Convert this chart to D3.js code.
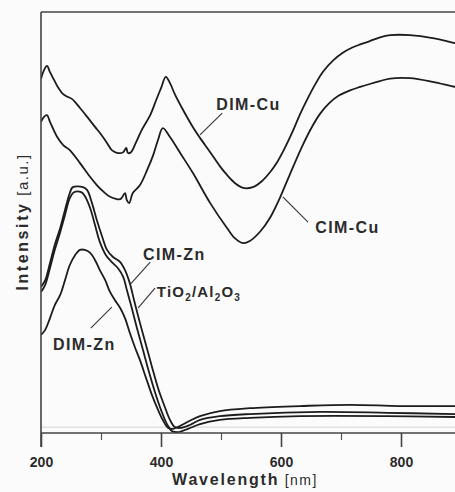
<!DOCTYPE html>
<html>
<head>
    <title>UV-Vis spectra</title>
    <script src="https://d3js.org/d3.v7.min.js"></script>
    <style>
        body { margin: 0; background: #fbfbfb; }
        text { font-family: "Liberation Sans", Arial, sans-serif; fill: #2b2b2b; }
    </style>
</head>
<body>
    <div id="chart"></div>

    <script>
        // [wavelength nm, intensity a.u.]
        const dimCu = [[200,84.1],[205,86.2],[210,87.2],[215,85.7],[222,83.8],[228,82.2],[237,80.5],[245,79.8],[252,79.3],[265,77.2],[277,75.1],[290,72.7],[298,71.3],[310,68.9],[318,67.2],[328,66.5],[337,66.7],[342,67.7],[345,66.5],[350,66.7],[358,68.9],[368,72.0],[382,75.5],[392,79.1],[400,81.9],[408,84.6],[415,83.1],[423,80.5],[435,77.2],[453,72.7],[465,70.1],[482,66.7],[498,63.4],[510,61.3],[523,59.4],[537,58.2],[553,58.4],[568,59.8],[582,62.0],[593,64.2],[605,67.3],[620,71.8],[632,75.8],[645,79.6],[657,82.8],[670,85.8],[687,88.5],[703,90.3],[718,91.5],[732,92.3],[748,93.1],[765,94.0],[782,94.5],[815,94.5],[853,93.8],[890,92.6],[900,92.3]];
        const cimCu = [[200,73.9],[205,75.1],[210,75.5],[215,73.9],[227,70.3],[237,68.4],[248,67.2],[265,64.1],[282,60.8],[293,58.9],[305,57.2],[315,56.1],[325,55.6],[333,55.6],[340,57.0],[343,55.3],[347,54.6],[353,57.0],[365,58.9],[377,62.5],[387,66.0],[395,69.6],[403,72.4],[415,70.3],[432,66.5],[453,61.8],[482,54.6],[510,48.7],[523,46.3],[537,45.1],[548,45.6],[565,47.8],[582,51.2],[598,55.8],[615,61.5],[637,68.6],[652,72.8],[665,75.8],[680,78.3],[697,80.2],[715,81.4],[732,82.2],[748,82.9],[765,83.6],[782,84.2],[815,84.3],[853,83.4],[890,82.2],[900,82.0]];
        const cimZn = [[200,34.7],[207,36.3],[215,40.4],[223,44.7],[232,48.7],[240,53.0],[248,57.0],[253,58.4],[270,58.4],[277,57.7],[285,54.6],[293,50.6],[302,46.6],[310,43.5],[320,41.8],[332,40.6],[340,38.7],[348,35.6],[355,31.6],[365,26.1],[375,20.9],[385,15.7],[395,10.7],[405,6.7],[415,3.1],[423,1.4],[432,1.2],[448,1.9],[465,3.1],[498,4.0],[548,4.5],[665,5.0],[777,4.8],[890,4.5],[900,4.5]];
        const tiAl = [[200,33.5],[207,35.2],[215,39.2],[223,43.5],[232,47.7],[240,51.8],[248,55.8],[255,57.2],[267,57.2],[273,56.3],[282,53.4],[290,49.4],[298,45.4],[308,42.3],[318,40.6],[328,39.2],[337,37.1],[343,34.0],[350,30.4],[360,24.9],[370,19.7],[380,14.5],[390,9.7],[400,5.5],[410,2.1],[418,0.5],[428,0.2],[445,1.0],[465,2.1],[498,3.1],[548,3.6],[632,4.0],[777,4.0],[890,3.8],[900,3.8]];
        const dimZn = [[200,23.3],[207,24.5],[215,27.3],[223,30.4],[232,32.8],[240,36.3],[248,39.9],[257,42.3],[265,43.5],[273,43.5],[282,42.8],[290,41.1],[298,38.7],[307,36.3],[315,33.5],[323,31.6],[332,29.7],[340,27.3],[348,23.8],[357,20.2],[365,17.3],[375,13.1],[385,9.0],[395,5.5],[403,3.1],[412,1.2],[420,1.0],[432,1.7],[448,2.9],[465,4.0],[498,5.2],[548,5.9],[632,6.4],[715,6.7],[798,6.4],[890,6.4],[900,6.4]];

        const series = [dimCu, cimCu, cimZn, tiAl, dimZn];

        const majorTicks = [200, 400, 600, 800];
        const minorTicks = [300, 500, 700];

        // label text, pointer tip, pointer tail, text position (data units)
        const labels = [
            {text: "DIM-Cu", tip: [465, 70.8], tail: [502, 76.0], at: [492, 76.7]},
            {text: "CIM-Cu", tip: [603, 56.1], tail: [645, 50.1], at: [657, 47.5]},
            {text: "CIM-Zn", tip: [348, 35.2], tail: [382, 40.6], at: [370, 41.1]},
            {text: "TiO2/Al2O3", tip: [362, 29.7], tail: [390, 34.4], at: [393, 32.3]},
            {text: "DIM-Zn", tip: [318, 29.9], tail: [283, 24.9], at: [220, 19.7]}
        ];

        const width = 455, height = 492;
        const plotLeft = 41, plotTop = 12, plotBottom = 433;

        const svg = d3.select("#chart").append("svg")
            .attr("width", width)
            .attr("height", height);

        svg.append("rect").attr("width", width).attr("height", height).attr("fill", "#fbfbfb");

        const x = d3.scaleLinear().domain([200, 900]).range([plotLeft, plotLeft + 420]);
        const y = d3.scaleLinear().domain([0, 100]).range([plotBottom, plotTop]);

        svg.append("clipPath").attr("id", "plot")
          .append("rect").attr("x", plotLeft).attr("y", 0).attr("width", width - plotLeft).attr("height", plotBottom + 4);

        // faint inner line just above the axis
        svg.append("line")
            .attr("x1", plotLeft).attr("x2", width)
            .attr("y1", y(1.4)).attr("y2", y(1.4))
            .attr("stroke", "#d2d2d2").attr("stroke-width", 1);

        const line = d3.line()
            .x(d => x(d[0]))
            .y(d => y(d[1]))
            .curve(d3.curveCatmullRom.alpha(0.5));

        svg.append("g").attr("clip-path", "url(#plot)")
          .selectAll("path")
          .data(series)
          .enter().append("path")
            .attr("d", line)
            .attr("fill", "none")
            .attr("stroke", "#1c1c1c")
            .attr("stroke-width", 1.8)
            .attr("stroke-linejoin", "round");

        // frame: top and left
        svg.append("line")
            .attr("x1", plotLeft).attr("x2", width)
            .attr("y1", plotTop).attr("y2", plotTop)
            .attr("stroke", "#444").attr("stroke-width", 1.6);
        svg.append("line")
            .attr("x1", plotLeft).attr("x2", plotLeft)
            .attr("y1", plotTop).attr("y2", plotBottom + 14)
            .attr("stroke", "#444").attr("stroke-width", 1.6);

        const xAxis = svg.append("g")
            .attr("transform", "translate(0," + plotBottom + ")")
            .call(d3.axisBottom(x).tickValues(majorTicks).tickSize(14).tickPadding(10).tickFormat(d3.format("d")));
        xAxis.select(".domain").remove();
        xAxis.selectAll("line").attr("stroke", "#444").attr("stroke-width", 1.6);
        xAxis.selectAll("text")
            .attr("fill", "#2b2b2b")
            .style("font-size", "14px").style("font-weight", "bold")
            .style("font-family", "'Liberation Sans', Arial, sans-serif");

        const minorAxis = svg.append("g")
            .attr("transform", "translate(0," + plotBottom + ")")
            .call(d3.axisBottom(x).tickValues(minorTicks).tickSize(7).tickFormat(""));
        minorAxis.select(".domain").remove();
        minorAxis.selectAll("line").attr("stroke", "#555").attr("stroke-width", 1.2);

        svg.append("line")
            .attr("x1", plotLeft).attr("x2", width)
            .attr("y1", plotBottom).attr("y2", plotBottom)
            .attr("stroke", "#444").attr("stroke-width", 1.6);

        // axis titles
        const xt = svg.append("text")
            .attr("x", 245).attr("y", 485)
            .attr("text-anchor", "middle");
        xt.append("tspan").text("Wavelength")
            .style("font-size", "16px").style("font-weight", "bold").style("letter-spacing", "1.8px");
        xt.append("tspan").text(" [nm]")
            .style("font-size", "14px").style("letter-spacing", "1.5px");

        const yt = svg.append("text")
            .attr("transform", "translate(28,222) rotate(-90)")
            .attr("text-anchor", "middle");
        yt.append("tspan").text("Intensity")
            .style("font-size", "16px").style("font-weight", "bold").style("letter-spacing", "2.6px");
        yt.append("tspan").text(" [a.u.]")
            .style("font-size", "15px").style("letter-spacing", "1.5px");

        // labels with pointers
        svg.selectAll(".pointer")
            .data(labels)
            .enter().append("line")
            .attr("class", "pointer")
            .attr("x1", d => x(d.tip[0])).attr("y1", d => y(d.tip[1]))
            .attr("x2", d => x(d.tail[0])).attr("y2", d => y(d.tail[1]))
            .attr("stroke", "#333").attr("stroke-width", 1.1);

        labels.forEach(d => {
            const t = svg.append("text")
                .attr("x", x(d.at[0])).attr("y", y(d.at[1]))
                .style("font-size", "16px").style("font-weight", "bold").style("letter-spacing", "1.4px");
            if (d.text === "TiO2/Al2O3") {
                t.style("font-size", "15px").style("letter-spacing", "1.2px");
                const parts = [["TiO", false], ["2", true], ["/Al", false], ["2", true], ["O", false], ["3", true]];
                parts.forEach(p => {
                    const s = t.append("tspan").text(p[0]);
                    if (p[1]) s.attr("dy", 4).style("font-size", "10px");
                    else if (p[0] !== "TiO") s.attr("dy", -4);
                });
            } else {
                t.text(d.text);
            }
        });
    </script>
</body>
</html>
